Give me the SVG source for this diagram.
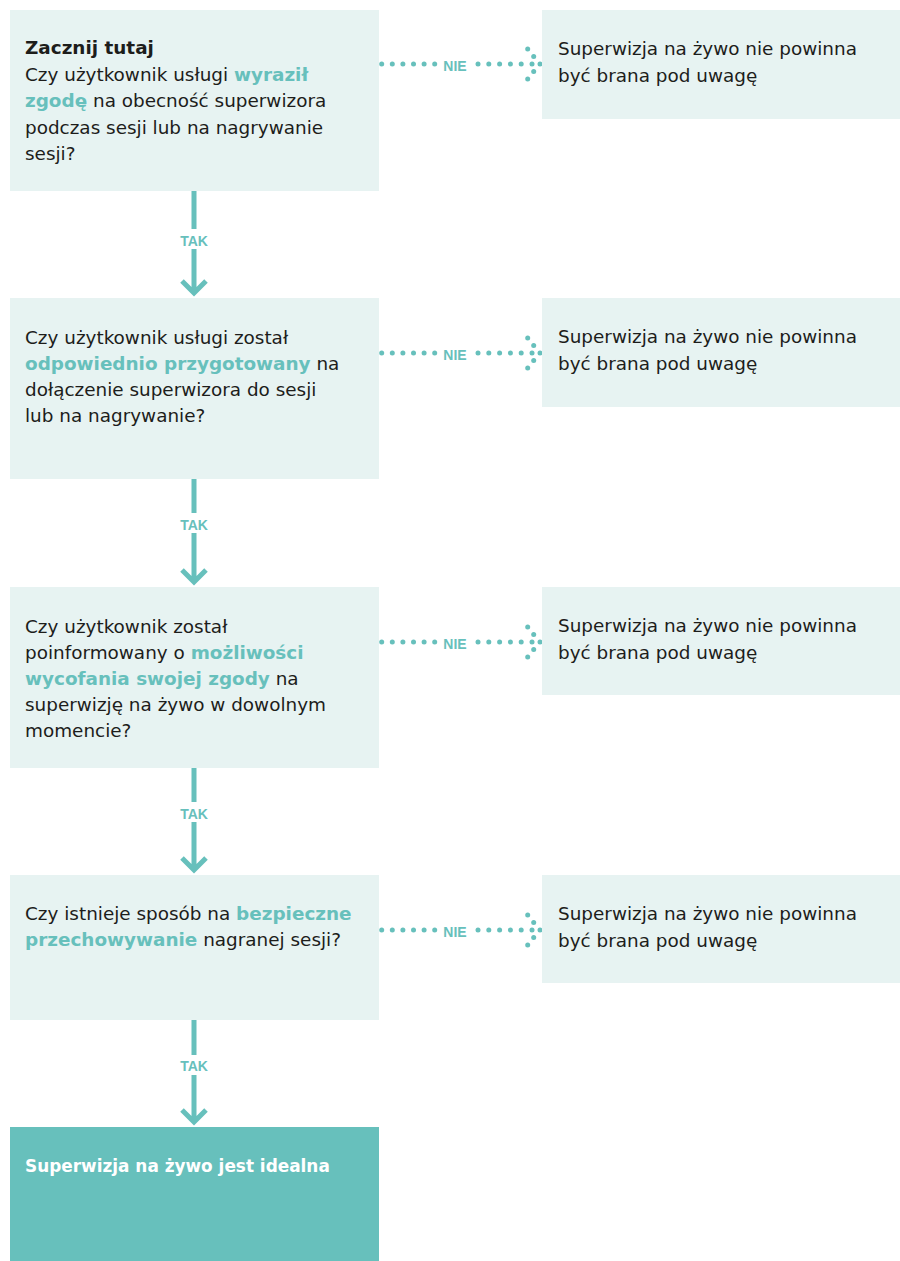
<svg xmlns="http://www.w3.org/2000/svg" xmlns:xlink="http://www.w3.org/1999/xlink" width="900" height="1261" viewBox="0 0 900 1261">
<defs>
<style>
.box{fill:#E7F3F2}
.final{fill:#67C0BC}
.t{font-family:"DejaVu Sans","Liberation Sans",sans-serif;font-size:18.4px;fill:#1d1d1b}
.b{font-weight:bold}
.hl{font-weight:bold;fill:#67C0BC}
.wt{font-family:"DejaVu Sans","Liberation Sans",sans-serif;font-size:16.9px;font-weight:bold;fill:#ffffff}
.lbl{font-family:"Liberation Sans",Arial,sans-serif;font-size:14px;font-weight:bold;fill:#67C0BC;text-anchor:middle}
.vl{stroke:#67C0BC;stroke-width:5;fill:none}
.dot{fill:#67C0BC}
</style>
<circle id="d" r="2.5" class="dot"/>
<g id="dots">
<use xlink:href="#d" x="381.7"/><use xlink:href="#d" x="392.3"/><use xlink:href="#d" x="402.9"/><use xlink:href="#d" x="413.5"/><use xlink:href="#d" x="424.1"/><use xlink:href="#d" x="434.7"/>
<use xlink:href="#d" x="478"/><use xlink:href="#d" x="488.8"/><use xlink:href="#d" x="499.6"/><use xlink:href="#d" x="510.4"/><use xlink:href="#d" x="521.2"/><use xlink:href="#d" x="532"/><use xlink:href="#d" x="540"/>
<use xlink:href="#d" x="533.7" y="-7.5"/><use xlink:href="#d" x="527.7" y="-15"/><use xlink:href="#d" x="533.7" y="7.5"/><use xlink:href="#d" x="527.7" y="15"/>
</g>
</defs>
<rect width="900" height="1261" fill="#ffffff"/>

<g id="connectors">
<g id="tak1">
<path class="vl" d="M194 191V229M194 249V293M182 281L194 293L206 281"/>
<text class="lbl" x="194" y="246">TAK</text>
</g>
<g id="tak2">
<path class="vl" d="M194 479V513M194 533V582M182 570L194 582L206 570"/>
<text class="lbl" x="194" y="530">TAK</text>
</g>
<g id="tak3">
<path class="vl" d="M194 768V802M194 822V870M182 858L194 870L206 858"/>
<text class="lbl" x="194" y="819">TAK</text>
</g>
<g id="tak4">
<path class="vl" d="M194 1020V1055M194 1075V1122M182 1110L194 1122L206 1110"/>
<text class="lbl" x="194" y="1071">TAK</text>
</g>
<g id="nie1"><use xlink:href="#dots" y="64"/><text class="lbl" x="455" y="71">NIE</text></g>
<g id="nie2"><use xlink:href="#dots" y="353"/><text class="lbl" x="455" y="360">NIE</text></g>
<g id="nie3"><use xlink:href="#dots" y="642"/><text class="lbl" x="455" y="649">NIE</text></g>
<g id="nie4"><use xlink:href="#dots" y="930"/><text class="lbl" x="455" y="937">NIE</text></g>
</g>

<g id="q1">
<rect class="box" x="10" y="10" width="369" height="181"/>
<text class="t" x="25" y="54"><tspan class="b">Zacznij tutaj</tspan></text>
<text class="t" x="25" y="80.5">Czy użytkownik usługi <tspan class="hl">wyraził</tspan></text>
<text class="t" x="25" y="107"><tspan class="hl">zgodę</tspan> na obecność superwizora</text>
<text class="t" x="25" y="133.5">podczas sesji lub na nagrywanie</text>
<text class="t" x="25" y="160">sesji?</text>
</g>
<g id="q2">
<rect class="box" x="10" y="298" width="369" height="181"/>
<text class="t" x="25" y="344">Czy użytkownik usługi został</text>
<text class="t" x="25" y="370"><tspan class="hl">odpowiednio przygotowany</tspan> na</text>
<text class="t" x="25" y="396">dołączenie superwizora do sesji</text>
<text class="t" x="25" y="422">lub na nagrywanie?</text>
</g>
<g id="q3">
<rect class="box" x="10" y="587" width="369" height="181"/>
<text class="t" x="25" y="633">Czy użytkownik został</text>
<text class="t" x="25" y="659">poinformowany o <tspan class="hl">możliwości</tspan></text>
<text class="t" x="25" y="685"><tspan class="hl">wycofania swojej zgody</tspan> na</text>
<text class="t" x="25" y="711">superwizję na żywo w dowolnym</text>
<text class="t" x="25" y="737">momencie?</text>
</g>
<g id="q4">
<rect class="box" x="10" y="875" width="369" height="145"/>
<text class="t" x="25" y="920">Czy istnieje sposób na <tspan class="hl">bezpieczne</tspan></text>
<text class="t" x="25" y="946"><tspan class="hl">przechowywanie</tspan> nagranej sesji?</text>
</g>
<g id="final">
<rect class="final" x="10" y="1127" width="369" height="134"/>
<text class="wt" x="25" y="1172">Superwizja na żywo jest idealna</text>
</g>
<g id="n1">
<rect class="box" x="542" y="10" width="358" height="109"/>
<text class="t" x="558" y="55">Superwizja na żywo nie powinna</text>
<text class="t" x="558" y="82">być brana pod uwagę</text>
</g>
<g id="n2">
<rect class="box" x="542" y="298" width="358" height="109"/>
<text class="t" x="558" y="343">Superwizja na żywo nie powinna</text>
<text class="t" x="558" y="370">być brana pod uwagę</text>
</g>
<g id="n3">
<rect class="box" x="542" y="587" width="358" height="108"/>
<text class="t" x="558" y="632">Superwizja na żywo nie powinna</text>
<text class="t" x="558" y="659">być brana pod uwagę</text>
</g>
<g id="n4">
<rect class="box" x="542" y="875" width="358" height="108"/>
<text class="t" x="558" y="920">Superwizja na żywo nie powinna</text>
<text class="t" x="558" y="947">być brana pod uwagę</text>
</g>
</svg>
